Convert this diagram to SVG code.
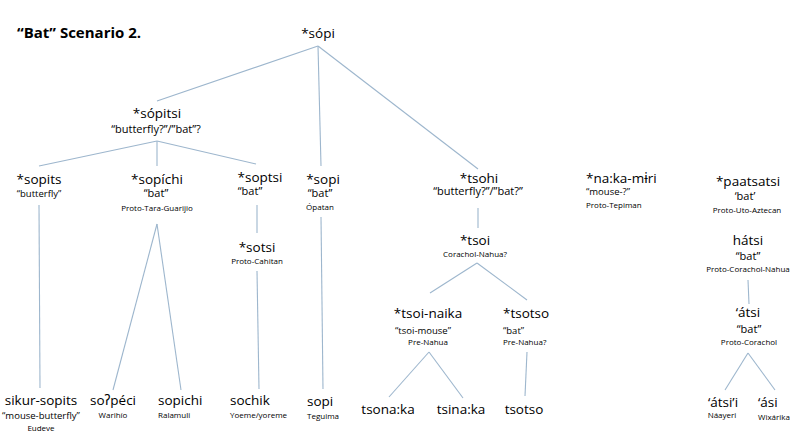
<svg xmlns="http://www.w3.org/2000/svg" width="800" height="446" viewBox="0 0 800 446">
<style>
text{font-family:"Open Sans","Noto Sans","DejaVu Sans",sans-serif;fill:#000}
.t{font-size:15px;font-weight:bold}
.m{font-size:13.5px}
.g{font-size:11px}
.gs{font-size:9.5px}
.l{font-size:8px}
.c{text-anchor:middle}
#connectors line{stroke:#9db6cd;stroke-width:1.1}
</style>
<rect width="800" height="446" fill="#fff"/>
<g id="connectors">
<line x1="318" y1="46" x2="157" y2="101"/>
<line x1="318" y1="46" x2="321" y2="166"/>
<line x1="318" y1="46" x2="478" y2="169"/>
<line x1="157" y1="141" x2="39" y2="166"/>
<line x1="157" y1="141" x2="157" y2="166"/>
<line x1="157" y1="141" x2="256" y2="164"/>
<line x1="39" y1="205" x2="40" y2="388"/>
<line x1="157" y1="224" x2="113" y2="390"/>
<line x1="157" y1="224" x2="181" y2="390"/>
<line x1="257" y1="205" x2="257" y2="233"/>
<line x1="257" y1="271" x2="259" y2="389"/>
<line x1="321" y1="217" x2="323" y2="389"/>
<line x1="478" y1="208" x2="478" y2="228"/>
<line x1="477" y1="263" x2="430" y2="293"/>
<line x1="477" y1="263" x2="527" y2="300"/>
<line x1="429" y1="352" x2="389" y2="397"/>
<line x1="429" y1="352" x2="463" y2="398"/>
<line x1="527" y1="352" x2="525" y2="396"/>
<line x1="748" y1="280" x2="749" y2="304"/>
<line x1="748" y1="353" x2="725" y2="390"/>
<line x1="748" y1="353" x2="775" y2="390"/>
</g>
<g id="title"><text class="t" x="17" y="38">“Bat” Scenario 2.</text></g>
<g id="n-sopi-root"><text class="m c" x="318" y="38">*sópi</text></g>
<g id="n-sopitsi"><text class="m c" x="157" y="118">*sópitsi</text><text class="g c" x="156" y="133">“butterfly?”/”bat”?</text></g>
<g id="n-sopits"><text class="m c" x="39" y="184">*sopits</text><text class="gs c" x="39" y="197">“butterfly”</text></g>
<g id="n-sopichi"><text class="m c" x="157" y="184">*sopíchi</text><text class="g c" x="156" y="197">“bat”</text><text class="l c" x="157" y="211">Proto-Tara-Guarijio</text></g>
<g id="n-soptsi"><text class="m c" x="260" y="182">*soptsi</text><text class="g c" x="250" y="195">“bat”</text></g>
<g id="n-sotsi"><text class="m c" x="257" y="252">*sotsi</text><text class="l c" x="257" y="264">Proto-Cahitan</text></g>
<g id="n-sopi"><text class="m c" x="323" y="184">*sopi</text><text class="g c" x="320" y="197">“bat”</text><text class="l c" x="320" y="210">Ópatan</text></g>
<g id="n-tsohi"><text class="m c" x="479" y="183">*tsohi</text><text class="g c" x="478" y="195">“butterfly?”/”bat?”</text></g>
<g id="n-tsoi"><text class="m c" x="475" y="245">*tsoi</text><text class="l c" x="475" y="257">Corachol-Nahua?</text></g>
<g id="n-tsoi-naika"><text class="m c" x="428" y="318">*tsoi-naika</text><text class="gs c" x="423" y="334">“tsoi-mouse”</text><text class="l c" x="428" y="345">Pre-Nahua</text></g>
<g id="n-tsotso-proto"><text class="m" x="503" y="318">*tsotso</text><text class="gs" x="503" y="334">“bat”</text><text class="l" x="503" y="345">Pre-Nahua?</text></g>
<g id="n-nakamiri"><text class="m" x="586" y="183">*na:ka-mɨri</text><text class="gs" x="586" y="195">“mouse-?”</text><text class="l" x="586" y="208">Proto-Tepiman</text></g>
<g id="n-paatsatsi"><text class="m c" x="748" y="186">*paatsatsi</text><text class="g c" x="745" y="200">‘bat’</text><text class="l c" x="747" y="213">Proto-Uto-Aztecan</text></g>
<g id="n-hatsi"><text class="m c" x="748" y="245">hátsi</text><text class="g c" x="748" y="260">“bat”</text><text class="l c" x="748" y="272">Proto-Corachol-Nahua</text></g>
<g id="n-atsi"><text class="m c" x="748" y="317">‘átsi</text><text class="g c" x="749" y="333">“bat”</text><text class="l c" x="749" y="345">Proto-Corachol</text></g>
<g id="n-sikur-sopits"><text class="m c" x="41" y="405">sikur-sopits</text><text class="gs c" x="41" y="419">“mouse-butterfly”</text><text class="l c" x="41" y="431">Eudeve</text></g>
<g id="n-sopeci"><text class="m c" x="113" y="405">soʔpéci</text><text class="l c" x="113" y="418">Warihío</text></g>
<g id="n-sopichi-leaf"><text class="m" x="158" y="405">sopichi</text><text class="l" x="158" y="418">Ralamuli</text></g>
<g id="n-sochik"><text class="m" x="230" y="405">sochik</text><text class="l" x="230" y="418">Yoeme/yoreme</text></g>
<g id="n-sopi-leaf"><text class="m" x="307" y="406">sopi</text><text class="l" x="307" y="419">Teguima</text></g>
<g id="n-tsonaka"><text class="m c" x="388" y="414">tsona:ka</text></g>
<g id="n-tsinaka"><text class="m c" x="461" y="414">tsina:ka</text></g>
<g id="n-tsotso"><text class="m c" x="524" y="414">tsotso</text></g>
<g id="n-atsii"><text class="m c" x="723" y="407">‘átsi’i</text><text class="l c" x="722" y="418">Náayeri</text></g>
<g id="n-asi"><text class="m" x="758" y="407">‘ási</text><text class="l" x="758" y="420">Wixárika</text></g>
</svg>
